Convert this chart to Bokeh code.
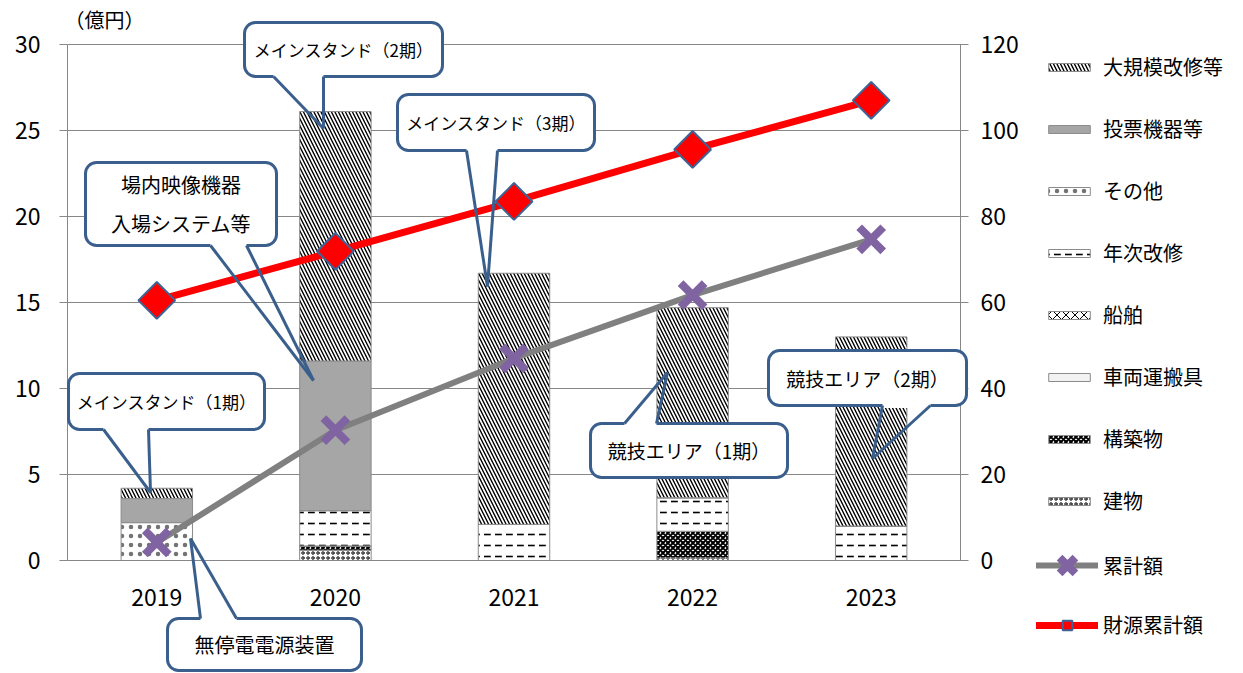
from bokeh.plotting import figure
from bokeh.models import (Range1d, LinearAxis, FixedTicker, Legend, LegendItem,
                          BoxAnnotation, Arrow, Label, ColumnDataSource)
from bokeh.embed import file_html
from bokeh.resources import INLINE
import numpy as np

# ---------------- data ----------------
years = ["2019", "2020", "2021", "2022", "2023"]
tatemono = [0, 0.6, 0, 0.15, 0]          # 建物
kouchikubutsu = [0, 0.25, 0, 1.55, 0]    # 構築物
sharyo = [0, 0, 0, 0, 0]                 # 車両運搬具
senpaku = [0, 0, 0, 0, 0]                # 船舶
nenji = [0, 2.05, 2.1, 1.95, 2.0]        # 年次改修
sonota = [2.2, 0, 0, 0, 0]               # その他
touhyou = [1.4, 8.7, 0, 0, 0]            # 投票機器等
daikibo = [0.6, 14.5, 14.6, 11.05, 11.0] # 大規模改修等
ruikei = [4.2, 30.3, 47.0, 61.7, 74.7]   # 累計額 (right axis)
zaigen = [60.5, 71.9, 83.5, 95.6, 107.0] # 財源累計額 (right axis)
left_ticks = [0, 5, 10, 15, 20, 25, 30]
right_ticks = [0, 20, 40, 60, 80, 100, 120]
LEFT_MAX, RIGHT_MAX = 30, 120

FONT = "Noto Sans CJK JP"
GRID = "#878787"
CALLOUT = "#3B5F8C"

W, H = 1243, 673
FL, FR, FT, FB = 67, 960, 44, 560   # plot-area box in screen pixels
N = len(years)
xs = [i + 0.5 for i in range(N)]    # category centres


def dx(px):
    return (px - FL) / (FR - FL) * N


def dy(py):
    return (FB - py) / (FB - FT) * LEFT_MAX


# the frame spans the whole canvas so that callouts and legends may sit anywhere
p = figure(width=W, height=H, x_range=Range1d(dx(0), dx(W)), y_range=Range1d(dy(H), dy(0)),
           output_backend="svg", toolbar_location=None, min_border=0,
           x_axis_location=None, y_axis_location=None)
p.outline_line_color = None
p.grid.visible = False
scale_r = RIGHT_MAX / LEFT_MAX
p.extra_y_ranges = {"right": Range1d(dy(H) * scale_r, dy(0) * scale_r)}


def style_axis(ax):
    ax.axis_line_color = GRID
    ax.major_tick_line_color = GRID
    ax.major_label_text_font = FONT
    ax.major_label_text_font_size = "23px"
    ax.major_label_text_color = "black"


la = LinearAxis(fixed_location=0, bounds=(0, LEFT_MAX),
                ticker=FixedTicker(ticks=left_ticks, minor_ticks=[]))
style_axis(la)
la.major_tick_out = 8
la.major_tick_in = 0
la.major_label_standoff = 19
p.add_layout(la, "left")

ra = LinearAxis(y_range_name="right", fixed_location=N, bounds=(0, RIGHT_MAX),
                ticker=FixedTicker(ticks=right_ticks, minor_ticks=[]))
style_axis(ra)
ra.major_tick_out = 8
ra.major_tick_in = 7
ra.major_label_standoff = 12
p.add_layout(ra, "right")

ba = LinearAxis(fixed_location=0, bounds=(0, N),
                ticker=FixedTicker(ticks=xs, minor_ticks=[]),
                major_label_overrides={x: y for x, y in zip(xs, years)})
style_axis(ba)
ba.major_tick_line_color = None
ba.major_label_standoff = 22
p.add_layout(ba, "below")

# horizontal gridlines, from the left tick values, between the two axes
p.segment(x0=[0] * (len(left_ticks) - 1), x1=[N] * (len(left_ticks) - 1),
          y0=left_ticks[1:], y1=left_ticks[1:], line_color=GRID, line_width=1)

# ---------------- bars ----------------
src = ColumnDataSource(dict(x=xs, tatemono=tatemono, kouchiku=kouchikubutsu, sharyo=sharyo,
                            senpaku=senpaku, nenji=nenji, sonota=sonota, touhyou=touhyou,
                            daikibo=daikibo))
stackers = ["tatemono", "kouchiku", "sharyo", "senpaku", "nenji", "sonota", "touhyou", "daikibo"]
fills = ["white", "white", "#F2F2F2", "white", "white", "white", "#A6A6A6", "white"]
hatches = ["o", "x", " ", "x", '"', ".", " ", "\\"]
hscales = [5, 5, 10, 9, 11, 9, 10, 7]
hweights = [1.0, 2.0, 1, 1, 1.6, 1, 1, 1.4]
halphas = [1, 1, 1, 1, 1, 0.55, 1, 1]
bars = p.vbar_stack(stackers, x="x", width=0.4, source=src,
                    fill_color=fills, line_color="#8C8C8C", line_width=1,
                    hatch_pattern=hatches, hatch_scale=hscales, hatch_weight=hweights,
                    hatch_alpha=halphas, hatch_color="black")
bar_r = dict(zip(stackers, bars))

# ---------------- lines ----------------
l_ruikei = p.line(xs, ruikei, y_range_name="right", line_color="#808080", line_width=6,
                  line_cap="round")
l_zaigen = p.line(xs, zaigen, y_range_name="right", line_color="#FF0000", line_width=7,
                  line_cap="round")
s_ruikei = p.scatter(xs, ruikei, y_range_name="right", marker="x", size=34,
                     line_color="#8064A2", line_width=8)
s_zaigen = p.scatter(xs, zaigen, y_range_name="right", marker="square", angle=np.pi / 4,
                     size=26, fill_color="#FF0000", line_color="#3C6496", line_width=2)

# ---------------- legends ----------------
bar_items = [("大規模改修等", "daikibo"), ("投票機器等", "touhyou"), ("その他", "sonota"),
             ("年次改修", "nenji"), ("船舶", "senpaku"), ("車両運搬具", "sharyo"),
             ("構築物", "kouchiku"), ("建物", "tatemono")]


def mk_legend(items, loc, gw, gh, lh, spacing, standoff):
    return Legend(items=items, location=loc, glyph_width=gw, glyph_height=gh, label_height=lh,
                  spacing=spacing, padding=0, margin=0, label_standoff=standoff,
                  background_fill_alpha=0, border_line_alpha=0,
                  label_text_font=FONT, label_text_font_size="20px", label_text_color="black")


leg1 = mk_legend([LegendItem(label=t, renderers=[bar_r[k]]) for t, k in bar_items],
                 (1043, 158), 52, 10, 24, 33, 8)
leg2 = mk_legend([LegendItem(label="累計額", renderers=[l_ruikei, s_ruikei])],
                 (1036, H - 593), 62, 56, 56, 0, 5)
leg3 = mk_legend([LegendItem(label="財源累計額", renderers=[l_zaigen, s_zaigen])],
                 (1036, H - 639), 62, 24, 24, 0, 5)
for lg in (leg1, leg2, leg3):
    p.add_layout(lg, "center")

# ---------------- callouts ----------------
callouts = [
    ("メインスタンド（1期）", 17, (68, 373, 264, 429), (103, 148, 429), (150, 492)),
    ("メインスタンド（2期）", 17, (244, 22, 442, 76), (273, 323, 76), (323, 128)),
    ("メインスタンド（3期）", 17, (397, 94, 594, 150), (466, 497, 150), (487, 286)),
    ("場内映像機器\n入場システム等", 20, (85, 162, 276, 245), (210, 246, 245), (313, 380)),
    ("無停電電源装置", 20, (167, 618, 361, 670), (200, 236, 618), (190, 538)),
    ("競技エリア（1期）", 19, (590, 423, 787, 477), (624, 656, 423), (667, 372)),
    ("競技エリア（2期）", 19, (768, 350, 966, 405), (882, 930, 405), (872, 458)),
]

for text, fs, (l, t, r, b), (bx1, bx2, by), (tx, ty) in callouts:
    p.add_layout(BoxAnnotation(left=dx(l), right=dx(r), top=dy(t), bottom=dy(b),
                               fill_color="white", fill_alpha=1.0,
                               line_color=CALLOUT, line_width=3, line_alpha=1.0,
                               border_radius=11))
    p.add_layout(Arrow(x_start=dx(bx1), y_start=dy(by), x_end=dx(bx2), y_end=dy(by),
                       start=None, end=None, line_color="white", line_width=5))
    p.add_layout(Arrow(x_start=dx(bx1), y_start=dy(by), x_end=dx(tx), y_end=dy(ty),
                       start=None, end=None, line_color=CALLOUT, line_width=3))
    p.add_layout(Arrow(x_start=dx(bx2), y_start=dy(by), x_end=dx(tx), y_end=dy(ty),
                       start=None, end=None, line_color=CALLOUT, line_width=3))
    p.add_layout(Label(x=dx((l + r) / 2), y=dy((t + b) / 2), text=text, text_align="center",
                       text_baseline="middle", text_font=FONT, text_font_size=f"{fs}px",
                       text_color="black", text_line_height=1.35))

p.add_layout(Label(x=dx(64), y=dy(19), text="（億円）", text_align="left",
                   text_baseline="middle", text_font=FONT, text_font_size="20px",
                   text_color="black"))

open("out.html", "w").write(file_html(p, INLINE))
